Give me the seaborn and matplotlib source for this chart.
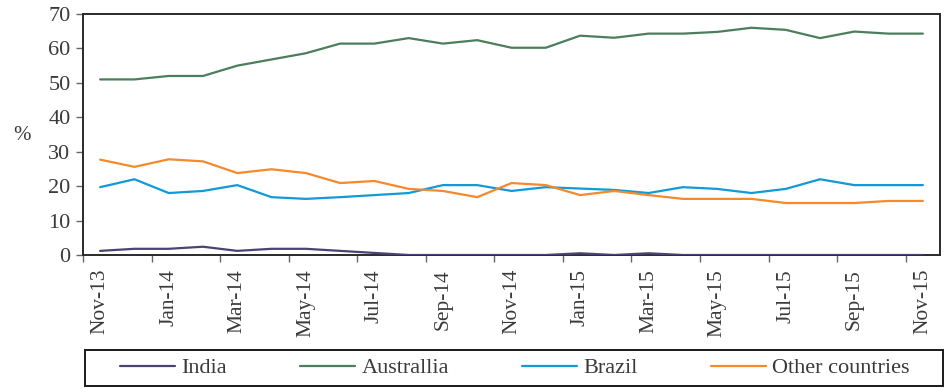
import matplotlib
matplotlib.use("Agg")
import matplotlib.pyplot as plt
from matplotlib.patches import Rectangle
import pandas as pd
import seaborn as sns

months = ["Nov-13", "Dec-13", "Jan-14", "Feb-14", "Mar-14", "Apr-14", "May-14",
          "Jun-14", "Jul-14", "Aug-14", "Sep-14", "Oct-14", "Nov-14", "Dec-14",
          "Jan-15", "Feb-15", "Mar-15", "Apr-15", "May-15", "Jun-15", "Jul-15",
          "Aug-15", "Sep-15", "Oct-15", "Nov-15"]

india = [1.2, 1.8, 1.8, 2.4, 1.2, 1.8, 1.8, 1.2, 0.6, 0.0, 0.0, 0.0, 0.0, 0.0,
         0.5, 0.0, 0.5, 0.0, 0.0, 0.0, 0.0, 0.0, 0.0, 0.0, 0.0]
australia = [51.0, 51.0, 52.0, 52.0, 55.0, 56.8, 58.6, 61.4, 61.4, 63.0, 61.4,
             62.4, 60.2, 60.2, 63.7, 63.1, 64.3, 64.3, 64.8, 66.0, 65.4, 63.0,
             64.9, 64.3, 64.3]
brazil = [19.7, 22.0, 18.0, 18.6, 20.3, 16.8, 16.3, 16.8, 17.4, 18.0, 20.3, 20.3,
          18.6, 19.7, 19.3, 18.9, 18.0, 19.7, 19.2, 18.0, 19.2, 22.0, 20.3, 20.3,
          20.3]
other = [27.7, 25.6, 27.8, 27.2, 23.8, 24.9, 23.8, 20.9, 21.5, 19.2, 18.6, 16.8,
         20.9, 20.3, 17.4, 18.6, 17.4, 16.3, 16.3, 16.3, 15.1, 15.1, 15.1, 15.7,
         15.7]

series_names = ["India", "Australlia", "Brazil", "Other countries"]
series_colors = ["#4a4474", "#4c7d5d", "#1199d8", "#f5892c"]
y_ticks = [0, 10, 20, 30, 40, 50, 60, 70]

frames = []
for name, vals in zip(series_names, [india, australia, brazil, other]):
    frames.append(pd.DataFrame({"idx": range(len(months)), "value": vals,
                                "country": name}))
df = pd.concat(frames, ignore_index=True)

sns.set_style("white")
plt.rcParams["font.family"] = ["Liberation Serif", "DejaVu Serif"]

W, H = 949, 388
fig = plt.figure(figsize=(W / 100, H / 100), dpi=100)
ax = fig.add_axes([83 / W, 1 - 255 / H, (940 - 83) / W, (255 - 14) / H])

sns.lineplot(data=df, x="idx", y="value", hue="country",
             hue_order=series_names, palette=series_colors,
             linewidth=1.6, ax=ax, legend=False, zorder=3)

n = len(months)
ax.set_xlim(-0.5, n - 0.5)
ax.set_ylim(0, 70)

# category labels every second month, tick marks on the band boundaries
ax.set_xticks(range(0, n, 2))
ax.set_xticklabels(months[::2], rotation=90, fontsize=15.5, color="#3a3a3a")
ax.tick_params(axis="x", which="major", length=0, pad=10)
ax.set_xticks([b - 0.5 for b in range(0, n, 2)], minor=True)
ax.tick_params(axis="x", which="minor", length=5, width=1, color="#666666",
               direction="out", bottom=True)

ax.set_yticks(y_ticks)
ax.set_yticklabels([str(v) for v in y_ticks], fontsize=16, color="#3a3a3a")
ax.tick_params(axis="y", length=5, width=1, color="#666666", direction="out",
               left=True, pad=4)

ax.set_xlabel("")
ax.set_ylabel("")
fig.text(22 / W, 1 - 135 / H, "%", fontsize=15, color="#3a3a3a",
         ha="center", va="center")

for side in ["left", "bottom", "top", "right"]:
    ax.spines[side].set_visible(True)
    ax.spines[side].set_color("#2a2a2a")
    ax.spines[side].set_linewidth(1.4)

# legend box below the axis
fig.patches.append(Rectangle((85 / W, 1 - 386 / H), (943 - 85) / W, 36 / H,
                             transform=fig.transFigure, fill=False,
                             edgecolor="#1a1a1a", linewidth=1.4))
handles = [plt.Line2D([], [], color=c, linewidth=1.6) for c in series_colors]
fig.legend(handles, series_names, loc="center", ncol=4,
           bbox_to_anchor=(515 / W, 1 - 368 / H), frameon=False,
           fontsize=16, handlelength=2.45, handletextpad=0.3,
           columnspacing=3.3, labelcolor="#3a3a3a")

fig.savefig("out.png", dpi=100)
